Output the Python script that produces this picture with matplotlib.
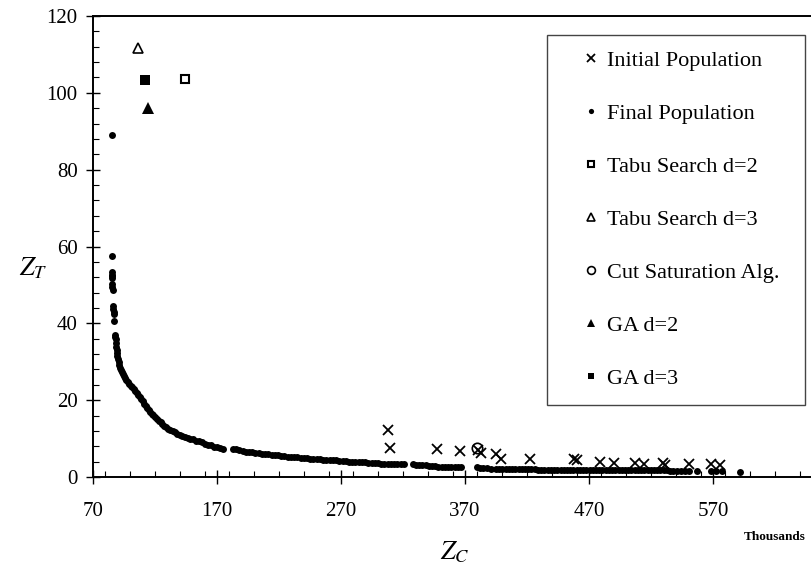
import numpy as np
import matplotlib
matplotlib.use("Agg")
import matplotlib.pyplot as plt
from matplotlib.ticker import MultipleLocator

plt.rcParams['font.family'] = ['Liberation Serif', 'DejaVu Serif']
plt.rcParams['mathtext.fontset'] = 'stix'

# initial population (x markers)
ip_x = [307.6, 309.5, 347.8, 365.7, 380.8, 382.7, 394.7, 398.7, 422.8, 457.8,
        460.5, 479.0, 490.0, 507.0, 514.0, 530.0, 531.5, 551.0, 568.5, 575.6]
ip_y = [12.2, 7.5, 7.2, 6.8, 6.9, 6.2, 5.9, 4.7, 4.6, 4.8,
        4.4, 3.9, 3.7, 3.7, 3.4, 3.7, 3.1, 3.4, 3.4, 3.1]

# final population (dots), read along the front
fp_x = [85.0, 85.0, 85.2, 85.3, 85.3, 85.4, 85.6, 85.7, 85.8, 86.3, 86.5, 86.7, 86.8, 87.3, 87.8, 88.0, 88.2,
        88.5, 88.8, 89.1, 89.4, 89.7, 90.1, 90.6, 91.1, 91.7, 92.4, 93.2, 94.0, 95.0, 96.0, 97.0, 98.2, 99.4,
        100.6, 101.8, 103.0, 104.2, 105.4, 106.6, 107.8, 109.0, 110.2, 111.4, 112.6, 113.8, 115.0, 116.2,
        117.4, 118.6, 120.0, 121.5, 123.0, 124.5, 126.0, 127.6, 129.2, 130.8, 132.4, 134.2, 136.0, 138.0,
        140.0, 142.0, 144.2, 146.4, 148.6, 150.8, 153.0, 155.4, 157.8, 160.2, 162.6, 165.0, 167.4, 169.8,
        172.2, 174.8,
        183.0, 185.5, 188.0, 190.6, 193.2, 195.8, 198.4, 201.0, 203.6, 206.2, 208.8, 211.4, 214.0, 216.6,
        219.2, 221.8, 224.4, 227.0, 229.6, 232.2, 234.8, 237.4, 240.0, 242.6, 245.2, 247.8, 250.4, 253.0,
        255.6, 258.2, 260.8, 263.4, 266.0, 268.6, 271.2, 273.8, 276.4, 279.0, 281.6, 284.2, 286.8, 289.4,
        292.0, 294.6, 297.2, 299.8, 302.4, 305.0, 307.6, 310.2, 312.8, 315.4, 318.0, 320.6,
        327.8, 330.4, 333.0, 335.6, 338.2, 340.8, 343.4, 346.0, 348.6, 351.2, 353.8, 356.4, 359.0, 361.6,
        364.2, 366.8,
        379.6, 382.0, 384.6, 388.0, 391.0, 395.0, 397.6, 400.2, 402.8, 405.4, 408.0, 410.6, 413.2, 415.8,
        418.4, 421.0, 423.6, 426.2, 428.8, 431.4, 434.0, 436.6, 439.2, 441.8, 444.4, 447.0, 449.6, 452.2,
        454.8, 457.4, 460.0, 462.6, 465.2, 467.8, 470.4, 473.0, 475.6, 478.2, 480.8, 483.4, 486.0, 488.6,
        491.2, 493.8, 496.4, 499.0, 501.6, 504.2, 506.8, 509.4, 512.0, 514.6, 517.2, 519.8, 522.4, 525.0,
        527.6, 530.2, 532.8, 535.4, 538.0, 541.0, 544.0, 547.0, 551.0, 557.0, 568.0, 572.0, 577.0, 592.0]
fp_y = [88.9, 57.5, 53.3, 52.7, 52.2, 51.7, 50.3, 49.5, 48.6, 44.6, 43.8, 43.0, 42.3, 40.5, 37.0, 36.4, 35.8,
        34.8, 33.8, 33.0, 32.2, 31.4, 30.6, 29.9, 29.2, 28.5, 27.9, 27.3, 26.8, 26.2, 25.7, 25.2, 24.7, 24.2,
        23.8, 23.3, 22.9, 22.4, 21.9, 21.4, 20.9, 20.3, 19.7, 19.1, 18.5, 18.0, 17.5, 17.0,
        16.5, 16.1, 15.6, 15.1, 14.6, 14.2, 13.8, 13.4, 13.0, 12.6, 12.2, 11.9, 11.6, 11.3,
        11.0, 10.7, 10.4, 10.2, 10.0, 9.8, 9.5, 9.3, 9.0, 8.7, 8.4, 8.2, 7.9, 7.7,
        7.5, 7.2,
        7.4, 7.2, 7.0, 6.8, 6.6, 6.5, 6.4, 6.3, 6.2, 6.1, 6.0, 5.9, 5.7, 5.7,
        5.6, 5.5, 5.4, 5.3, 5.3, 5.2, 5.1, 5.0, 4.9, 4.9, 4.8, 4.7, 4.7, 4.6,
        4.5, 4.5, 4.4, 4.3, 4.3, 4.2, 4.2, 4.1, 4.0, 4.0, 3.9, 3.9, 3.8, 3.8,
        3.7, 3.7, 3.6, 3.6, 3.5, 3.5, 3.5, 3.4, 3.4, 3.4, 3.3, 3.3,
        3.3, 3.2, 3.1, 3.0, 3.0, 2.9, 2.9, 2.8, 2.7, 2.7, 2.7, 2.7, 2.7, 2.7,
        2.6, 2.6,
        2.5, 2.4, 2.4, 2.3, 2.2, 2.1, 2.1, 2.1, 2.1, 2.1, 2.0, 2.0, 2.0, 2.0,
        2.0, 2.0, 2.0, 2.0, 1.9, 1.9, 1.9, 1.9, 1.9, 1.9, 1.9, 1.9, 1.9, 1.9,
        1.8, 1.8, 1.8, 1.8, 1.8, 1.8, 1.8, 1.8, 1.8, 1.8, 1.8, 1.8, 1.8, 1.8,
        1.8, 1.8, 1.7, 1.7, 1.7, 1.7, 1.7, 1.7, 1.7, 1.7, 1.7, 1.7, 1.7, 1.7,
        1.7, 1.7, 1.7, 1.6, 1.6, 1.6, 1.6, 1.6, 1.6, 1.5, 1.5, 1.5, 1.5, 1.4]

tabu2_x, tabu2_y = [144.0], [103.7]
tabu3_x, tabu3_y = [106.0], [111.7]
cut_x, cut_y = [380.0], [7.6]
ga2_x, ga2_y = [114.0], [96.1]
ga3_x, ga3_y = [112.0], [103.3]

fig = plt.figure(figsize=(8.11, 5.67), dpi=100)
ax = fig.add_axes([93/811, 90/567, 718/811, 461/567])

ax.plot(ip_x, ip_y, 'x', color='k', ms=7.5, mew=1.3, label='Initial Population')
ax.plot(fp_x, fp_y, 'o', color='k', ms=5.0, mew=0, label='Final Population')
ax.plot(tabu2_x, tabu2_y, 's', mfc='white', mec='k', ms=6, mew=1.5, label='Tabu Search d=2')
ax.plot(tabu3_x, tabu3_y, '^', mfc='white', mec='k', ms=7, mew=1.2, label='Tabu Search d=3')
ax.plot(cut_x, cut_y, 'o', mfc='none', mec='k', ms=7.5, mew=1.2, label='Cut Saturation Alg.')
ax.plot(ga2_x, ga2_y, '^', color='k', ms=8, mew=0, label='GA d=2')
ax.plot(ga3_x, ga3_y, 's', color='k', ms=6.5, mew=0, label='GA d=3')

ax.set_xlim(70, 649)
ax.set_ylim(0, 120)
ax.xaxis.set_minor_locator(MultipleLocator(20))
ax.yaxis.set_major_locator(MultipleLocator(20))
ax.yaxis.set_minor_locator(MultipleLocator(4))
ax.set_xticks(np.arange(70, 571, 100))
ax.tick_params(which='major', direction='inout', length=10, width=1, labelsize=15)
ax.tick_params(axis='x', which='major', pad=13)
ax.tick_params(axis='y', which='major', pad=6)
ax.tick_params(which='minor', direction='in', length=4, width=0.8)
for s in ['left', 'bottom', 'top']:
    ax.spines[s].set_linewidth(1.4)
ax.spines['right'].set_visible(False)

# legend box spans roughly x 547..805, y 35..400 px in the figure
leg = ax.legend(loc='upper left', bbox_to_anchor=(547/811, 0, 258/811, 1 - 35/567),
                bbox_transform=fig.transFigure, borderaxespad=0, numpoints=1, mode='expand',
                fontsize=16, markerscale=0.75, handlelength=2.6, handletextpad=-0.6,
                labelspacing=1.46, borderpad=0.7, fancybox=False, framealpha=1)
leg.get_frame().set_edgecolor('#444444')
leg.get_frame().set_linewidth(1.0)

fig.text(33/811, 1 - 268/567, r'$Z_T$', fontsize=19, ha='center', va='center')
fig.text(455/811, 1 - 552/567, r'$Z_C$', fontsize=19, ha='center', va='center')
fig.text(806/811, 1 - 537/567, 'Thousands', fontsize=9.5, fontweight='bold',
         ha='right', va='center')

fig.savefig('out.png', dpi=100)
